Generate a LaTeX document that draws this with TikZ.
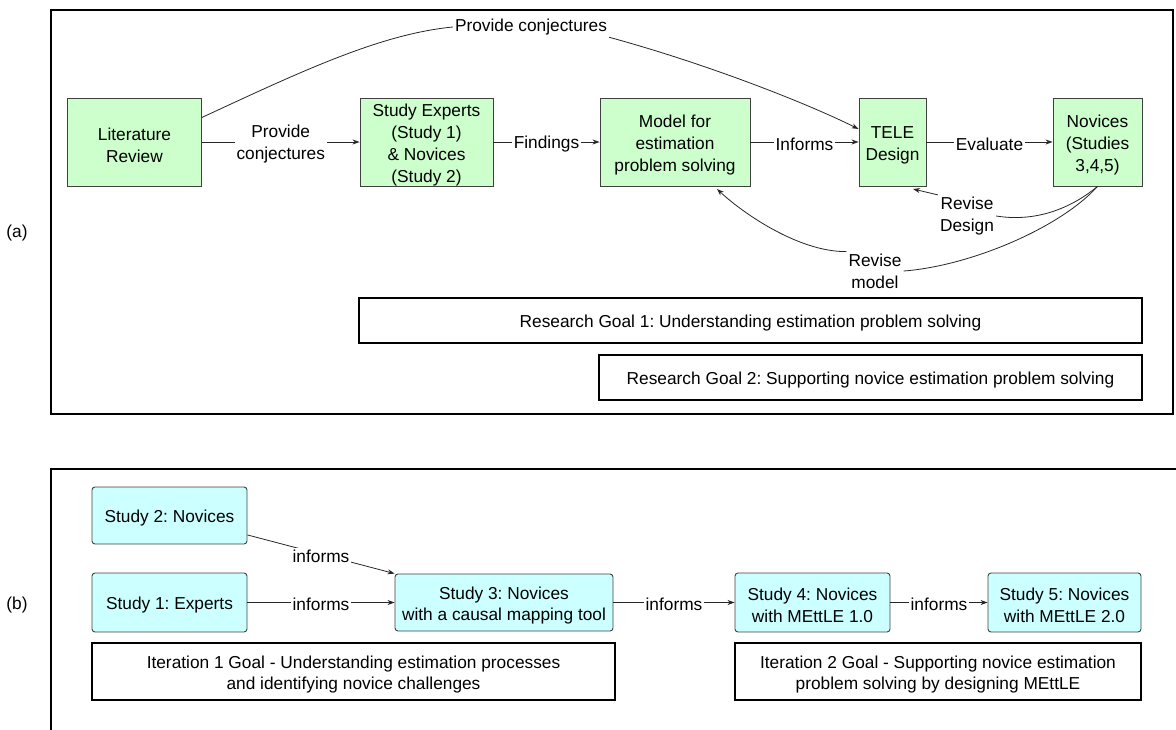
\documentclass[tikz,border=0pt]{standalone}
\usepackage{fontspec}
\setmainfont{Liberation Sans}
\frenchspacing
\usetikzlibrary{arrows.meta}
\definecolor{boxgreen}{HTML}{CCFFCC}
\definecolor{boxcyan}{HTML}{CCFFFF}
\definecolor{boxline}{HTML}{404040}
\begin{document}
\begin{tikzpicture}[x=1pt,y=-1pt,
  every node/.style={font=\fontsize{17.3}{21.7}\selectfont, align=center},
  % box text sits a little below the geometric centre
  btext/.style={label={[inner sep=0pt, yshift=-3pt]center:{#1}}},
  greenbox/.style={draw=boxline, line width=0.9pt, fill=boxgreen, inner sep=0pt},
  cyanbox/.style={draw=boxline, line width=0.9pt, fill=boxcyan, rounded corners=3pt, inner sep=0pt},
  goalbox/.style={draw=black, line width=2.2pt, fill=white, inner sep=0pt},
  frame/.style={draw=black, line width=2pt},
  conn/.style={draw=black!85, line width=0.8pt},
  arr/.style={conn, -{Stealth[length=7pt,width=5pt]}},
  lbl/.style={fill=white, inner sep=2pt, yshift=-2pt},
  tag/.style={inner sep=0pt}]
\useasboundingbox (0,0) rectangle (1176,729);

% ---------- part (a) ----------
\draw[frame] (51,10) rectangle (1173,414);
\node[tag] (taga) at (17,233) {(a)};

\node[greenbox, minimum width=134pt, minimum height=88pt, btext={Literature\\Review}] (lit) at (134.5,142) {};
\node[greenbox, minimum width=133pt, minimum height=88pt, btext={Study Experts\\(Study 1)\\\& Novices\\(Study 2)}] (sexp) at (426.5,142) {};
\node[greenbox, minimum width=150pt, minimum height=88pt, btext={Model for\\estimation\\problem solving}] (model) at (675,142) {};
\node[greenbox, minimum width=67pt,  minimum height=88pt, btext={TELE\\Design}] (tele) at (892.5,142) {};
\node[greenbox, minimum width=89pt,  minimum height=88pt, btext={Novices\\(Studies\\3,4,5)}] (nov) at (1097.5,142) {};

\draw[arr] (lit)   -- node[lbl] (lpc) {Provide\\conjectures} (sexp);
\draw[arr] (sexp)  -- node[lbl] (lfi) {Findings} (model);
\draw[arr] (model) -- node[lbl] (lin) {Informs} (tele);
\draw[arr] (tele)  -- node[lbl] (lev) {Evaluate} (nov);

% conjectures straight from the literature to the design
\node[inner sep=2pt] (ptop) at (531,27) {Provide conjectures};
\draw[conn] (lit.20) .. controls (300,72) and (380,34) .. (ptop.west);
\draw[arr] (ptop.south east) .. controls (700,62) and (800,100) .. (tele.159);

% revision loops
\node[inner sep=2pt] (rd) at (967,216) {Revise\\Design};
\node[inner sep=2pt] (rm) at (875,271) {Revise\\model};
\draw[conn] (nov.south) .. controls (1075,205) and (1040,223) .. (rd.east);
\draw[arr] (rd.north west) -- (913,189);
\draw[conn] (nov.south) .. controls (1060,228) and (970,266) .. (rm.east);
\draw[arr] (rm.north west) .. controls (800,252) and (745,215) .. (717,189);

\node[goalbox, minimum width=783pt, minimum height=45pt, btext={Research Goal 1: Understanding estimation problem solving}] (g1) at (750.5,320.5) {};
\node[goalbox, minimum width=543pt, minimum height=45pt, btext={Research Goal 2: Supporting novice estimation problem solving}] (g2) at (870.5,377.5) {};

% ---------- part (b) ----------
\draw[frame] (1180,469) -- (51,469) -- (51,735);
\node[tag] (tagb) at (17,605) {(b)};

\node[cyanbox, minimum width=155pt, minimum height=57pt, btext={Study 2: Novices}] (s2) at (169.5,515.5) {};
\node[cyanbox, minimum width=155pt, minimum height=59pt, btext={Study 1: Experts}] (s1) at (169.5,602.5) {};
\node[cyanbox, minimum width=218pt, minimum height=57pt, btext={Study 3: Novices\\with a causal mapping tool}] (s3) at (504,602.5) {};
\node[cyanbox, minimum width=155pt, minimum height=59pt, btext={Study 4: Novices\\with MEttLE 1.0}] (s4) at (812.5,602.5) {};
\node[cyanbox, minimum width=153pt, minimum height=59pt, btext={Study 5: Novices\\with MEttLE 2.0}] (s5) at (1064.5,602.5) {};

\draw[arr] (s2.-14) -- node[lbl] (ib1) {informs} (s3.north west);
\draw[arr] (s1) -- node[lbl] (ib2) {informs} (s3);
\draw[arr] (s3) -- node[lbl] (ib3) {informs} (s4);
\draw[arr] (s4) -- node[lbl] (ib4) {informs} (s5);

\node[goalbox, minimum width=523pt, minimum height=57pt, btext={Iteration 1 Goal - Understanding estimation processes\\and identifying novice challenges}] (it1) at (353.5,671.5) {};
\node[goalbox, minimum width=406pt, minimum height=57pt, btext={Iteration 2 Goal - Supporting novice estimation\\problem solving by designing MEttLE}] (it2) at (938,671.5) {};
\end{tikzpicture}
\end{document}
